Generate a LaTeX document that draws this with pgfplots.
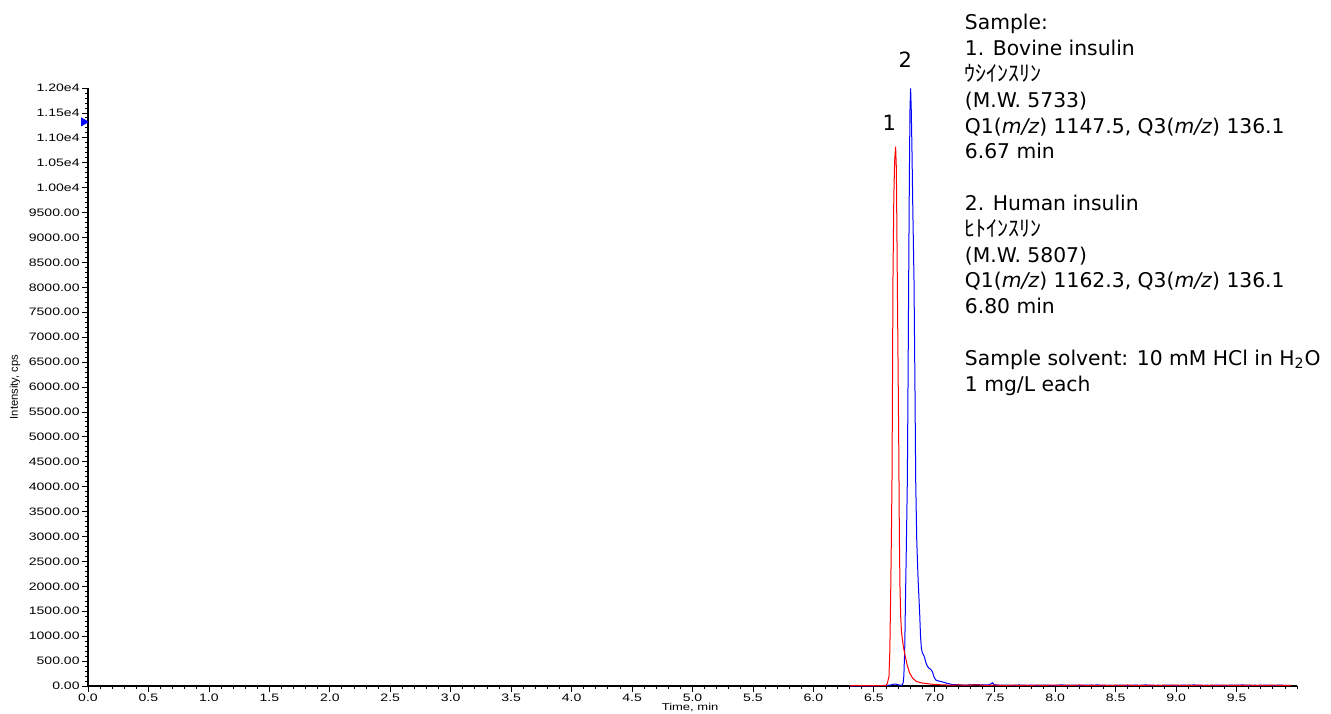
\documentclass[border=0pt]{standalone}
\usepackage{fontspec}
\usepackage{pgfplots}
\pgfplotsset{compat=1.18}
\setmainfont{DejaVu Sans}
\newfontfamily\tickfont[FakeStretch=1.3]{Liberation Sans}
\newfontfamily\labfont{Liberation Sans}
\newfontfamily\cjk{Noto Sans CJK JP}

\begin{document}
\begin{tikzpicture}
\begin{axis}[
  scale only axis, width=604.5pt, height=299pt,
  xmin=0, xmax=10, ymin=0, ymax=12000,
  clip=false,
  axis x line*=bottom, axis y line*=left,
  axis line style={-, line width=0.6pt},
  tick align=outside,
  major tick length=3pt, minor tick length=1.6pt,
  tick style={black, line width=0.4pt},
  xtick={0,0.5,...,9.5},
  minor xtick={0,0.1,...,9.95},
  ytick={0,500,...,12000},
  minor ytick={0,100,...,12000},
  scaled ticks=false,
  xticklabel style={font=\tickfont\fontsize{5.4}{6}\selectfont, inner sep=1pt,
    /pgf/number format/.cd, fixed, fixed zerofill, precision=1, assume math mode=true},
  yticklabel style={font=\tickfont\fontsize{5.4}{6}\selectfont, inner sep=1pt},
  yticklabels={0.00,500.00,1000.00,1500.00,2000.00,2500.00,3000.00,3500.00,4000.00,
    4500.00,5000.00,5500.00,6000.00,6500.00,7000.00,7500.00,8000.00,8500.00,9000.00,
    9500.00,1.00e4,1.05e4,1.10e4,1.15e4,1.20e4},
  xlabel={Time, min},
  ylabel={Intensity, cps},
  xlabel style={font=\tickfont\fontsize{5}{6}\selectfont, at={(axis description cs:0.498,0)}, anchor=center, yshift=-11pt},
  ylabel style={font=\labfont\fontsize{5.6}{6}\selectfont, at={(axis description cs:-0.0604,0.5)}, anchor=center},
]
\coordinate (O) at (rel axis cs:0,0);
\coordinate (T) at (rel axis cs:1,1);

% Human insulin (peak 2)
\addplot[blue, line width=0.5pt] table {
6.30 3
6.40 5
6.50 4
6.55 8
6.60 12
6.64 20
6.66 35
6.68 40
6.70 25
6.72 15
6.735 20
6.742 60
6.748 200
6.755 700
6.762 1800
6.770 3000
6.777 4134
6.783 6200
6.788 8147
6.794 10300
6.799 11600
6.804 11990
6.809 11600
6.815 10800
6.822 9600
6.832 8147
6.840 6000
6.846 4134
6.855 2900
6.866 2127
6.879 1459
6.886 1000
6.893 760
6.900 680
6.907 640
6.914 610
6.921 560
6.930 470
6.940 410
6.948 380
6.956 355
6.965 345
6.975 320
6.984 287
6.995 200
7.005 150
7.013 120
7.035 100
7.060 87
7.085 70
7.110 50
7.150 30
7.200 25
7.250 18
7.300 22
7.350 30
7.400 20
7.450 24
7.470 45
7.480 65
7.495 30
7.52 18
7.55 15
7.60 20
7.65 10
7.70 22
7.75 12
7.80 18
7.85 8
7.90 20
7.95 14
8.00 10
8.05 24
8.10 12
8.15 18
8.20 9
8.25 20
8.30 15
8.35 22
8.40 10
8.45 16
8.50 12
8.55 20
8.60 8
8.65 18
8.70 14
8.75 22
8.80 10
8.85 16
8.90 12
8.95 20
9.00 9
9.05 18
9.10 14
9.15 22
9.20 10
9.25 16
9.30 12
9.35 20
9.40 8
9.45 18
9.50 14
9.55 22
9.60 10
9.65 16
9.70 12
9.75 20
9.80 9
9.85 18
9.90 14
9.95 10
};

% Bovine insulin (peak 1)
\addplot[red, line width=0.5pt] table {
6.30 4
6.35 12
6.40 8
6.45 5
6.50 6
6.55 5
6.58 8
6.600 10
6.612 60
6.625 190
6.632 700
6.640 2000
6.646 3200
6.650 4134
6.654 6000
6.658 8147
6.665 9800
6.672 10550
6.680 10822
6.686 10400
6.690 9300
6.694 8147
6.700 6500
6.706 4800
6.711 3000
6.716 2000
6.722 1400
6.728 1100
6.735 950
6.745 780
6.755 650
6.763 560
6.778 400
6.796 260
6.820 160
6.852 90
6.900 60
6.950 45
7.000 30
7.050 25
7.100 20
7.150 18
7.200 22
7.250 15
7.300 20
7.350 24
7.400 16
7.450 12
7.500 18
7.55 14
7.60 9
7.65 20
7.70 11
7.75 17
7.80 10
7.85 21
7.90 12
7.95 16
8.00 20
8.05 9
8.10 18
8.15 12
8.20 22
8.25 10
8.30 16
8.35 11
8.40 19
8.45 9
8.50 17
8.55 12
8.60 21
8.65 10
8.70 15
8.75 11
8.80 19
8.85 10
8.90 17
8.95 12
9.00 20
9.05 10
9.10 16
9.15 12
9.20 19
9.25 9
9.30 18
9.35 11
9.40 20
9.45 12
9.50 16
9.55 10
9.60 19
9.65 11
9.70 17
9.75 9
9.80 20
9.85 12
9.90 15
9.95 10
};

% cursor marker on the intensity axis
\addplot[blue, only marks, mark=triangle*, mark size=2.2pt,
  mark options={rotate=-90, fill=blue}] coordinates {(-0.035,11320)};

\node[font=\fontsize{10.5}{12}\selectfont] at (axis cs:6.628,11298) {1};
\node[font=\fontsize{10.5}{12}\selectfont] at (axis cs:6.76,12562) {2};

\node[anchor=north west, align=left, inner sep=0pt,
  font=\fontsize{10.15}{12.9}\selectfont] at ([yshift=37pt]axis cs:7.25,12000) {%
Sample:\\
1. Bovine insulin\\
{\cjk\fontsize{11}{12.9}\selectfont ｳｼｲﾝｽﾘﾝ}\\
(M.W. 5733)\\
Q1(\textit{m/z}) 1147.5, Q3(\textit{m/z}) 136.1\\
6.67 min\\[12.9pt]
2. Human insulin\\
{\cjk\fontsize{11}{12.9}\selectfont ﾋﾄｲﾝｽﾘﾝ}\\
(M.W. 5807)\\
Q1(\textit{m/z}) 1162.3, Q3(\textit{m/z}) 136.1\\
6.80 min\\[12.9pt]
Sample solvent: 10 mM HCl in H\textsubscript{2}O\\
1 mg/L each};
\end{axis}
\pgfresetboundingbox
\path[use as bounding box] ([xshift=-44pt,yshift=-13.5pt]O) rectangle ([xshift=17pt,yshift=44pt]T);
\end{tikzpicture}
\end{document}
